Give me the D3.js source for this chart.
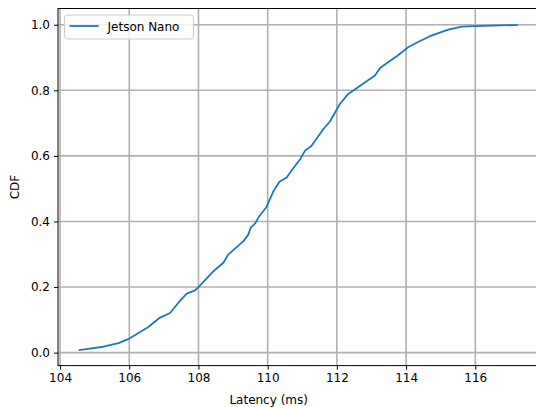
<!DOCTYPE html>
<html>
<head>
<meta charset="utf-8">
<script src="https://cdn.jsdelivr.net/npm/d3@7"></script>
<style>
  html, body { margin: 0; padding: 0; background: #fff; }
  svg { display: block; font-family: "DejaVu Sans", sans-serif; }
</style>
</head>
<body>
<div id="chart"></div>
<script>
// Latency samples (ms) and their CDF
const latency = [104.56, 105.25, 105.69, 105.97, 106.55, 106.89, 107.18, 107.47, 107.66, 107.90,
  108.00, 108.34, 108.48, 108.72, 108.86, 109.30, 109.44, 109.51, 109.64, 109.73, 109.97,
  110.17, 110.34, 110.55, 110.70, 110.94, 111.08, 111.27, 111.61, 111.80, 112.09, 112.33,
  112.62, 113.10, 113.25, 113.54, 113.73, 114.07, 114.36, 114.69, 115.22, 115.61, 115.99, 117.20];
const cdf = [0.008, 0.018, 0.029, 0.041, 0.078, 0.107, 0.121, 0.159, 0.180, 0.190,
  0.200, 0.238, 0.253, 0.274, 0.299, 0.340, 0.360, 0.381, 0.394, 0.412, 0.445,
  0.493, 0.521, 0.534, 0.557, 0.590, 0.616, 0.631, 0.682, 0.705, 0.759, 0.789,
  0.810, 0.845, 0.868, 0.890, 0.904, 0.932, 0.948, 0.965, 0.985, 0.994, 0.996, 0.999];
const xTicks = [104, 106, 108, 110, 112, 114, 116];
const yTicks = [0.0, 0.2, 0.4, 0.6, 0.8, 1.0];
const seriesName = 'Jetson Nano';

const width = 536, height = 407;
const margin = { top: 8.5, right: -2.6, bottom: 41.4, left: 58 };
const innerWidth = width - margin.left - margin.right;
const innerHeight = height - margin.top - margin.bottom;

const svg = d3.select('#chart').append('svg')
    .attr('width', width)
    .attr('height', height);

const g = svg.append('g')
    .attr('transform', `translate(${margin.left},${margin.top})`);

const x = d3.scaleLinear().domain([103.94, 117.83]).range([0, innerWidth]);
const y = d3.scaleLinear().domain([-0.0395, 1.0495]).range([innerHeight, 0]);

// grid
const gridColor = '#b0b0b0';
g.append('g').selectAll('line').data(xTicks).join('line')
    .attr('x1', d => x(d)).attr('x2', d => x(d))
    .attr('y1', 0).attr('y2', innerHeight)
    .attr('stroke', gridColor).attr('stroke-width', 1.6);
g.append('g').selectAll('line').data(yTicks).join('line')
    .attr('x1', 0).attr('x2', innerWidth)
    .attr('y1', d => y(d)).attr('y2', d => y(d))
    .attr('stroke', gridColor).attr('stroke-width', 1.6);

// axes
const xAxis = d3.axisBottom(x).tickValues(xTicks).tickFormat(d3.format('d'))
    .tickSizeInner(4).tickSizeOuter(0).tickPadding(4);
const yAxis = d3.axisLeft(y).tickValues(yTicks).tickFormat(d3.format('.1f'))
    .tickSizeInner(4).tickSizeOuter(0).tickPadding(4);

g.append('g')
    .attr('transform', `translate(0,${innerHeight})`)
    .call(xAxis)
    .call(a => a.select('.domain').remove())
    .call(a => a.selectAll('.tick line').attr('stroke', '#000').attr('stroke-width', 1))
    .call(a => a.selectAll('.tick text').attr('fill', '#000')
        .style('font-size', '12px').style('font-family', '"DejaVu Sans", sans-serif'));

g.append('g')
    .call(yAxis)
    .call(a => a.select('.domain').remove())
    .call(a => a.selectAll('.tick line').attr('stroke', '#000').attr('stroke-width', 1))
    .call(a => a.selectAll('.tick text').attr('fill', '#000')
        .style('font-size', '12px').style('font-family', '"DejaVu Sans", sans-serif'));

// spines
g.append('rect')
    .attr('x', 0).attr('y', 0)
    .attr('width', innerWidth).attr('height', innerHeight)
    .attr('fill', 'none').attr('stroke', '#000').attr('stroke-width', 1);

// CDF line
const pts = latency.map((v, i) => [v, cdf[i]]);
g.append('path')
    .datum(pts)
    .attr('fill', 'none')
    .attr('stroke', '#1f77b4')
    .attr('stroke-width', 1.8)
    .attr('stroke-linejoin', 'round')
    .attr('stroke-linecap', 'square')
    .attr('d', d3.line().x(d => x(d[0])).y(d => y(d[1])));

// axis labels
svg.append('text')
    .attr('x', margin.left + x(110) + 1)
    .attr('y', 404)
    .attr('text-anchor', 'middle')
    .style('font-size', '12px')
    .text('Latency (ms)');

svg.append('text')
    .attr('transform', `translate(19,${margin.top + innerHeight / 2}) rotate(-90)`)
    .attr('text-anchor', 'middle')
    .style('font-size', '12px')
    .text('CDF');

// legend
const legend = svg.append('g').attr('transform', 'translate(64.5,15)');
legend.append('rect')
    .attr('width', 129).attr('height', 24).attr('rx', 3)
    .attr('fill', '#fff').attr('fill-opacity', 0.8)
    .attr('stroke', '#cccccc').attr('stroke-width', 1);
legend.append('line')
    .attr('x1', 5).attr('x2', 34).attr('y1', 11).attr('y2', 11)
    .attr('stroke', '#1f77b4').attr('stroke-width', 1.8);
legend.append('text')
    .attr('x', 43).attr('y', 15.5)
    .style('font-size', '12px')
    .text(seriesName);
</script>
</body>
</html>
